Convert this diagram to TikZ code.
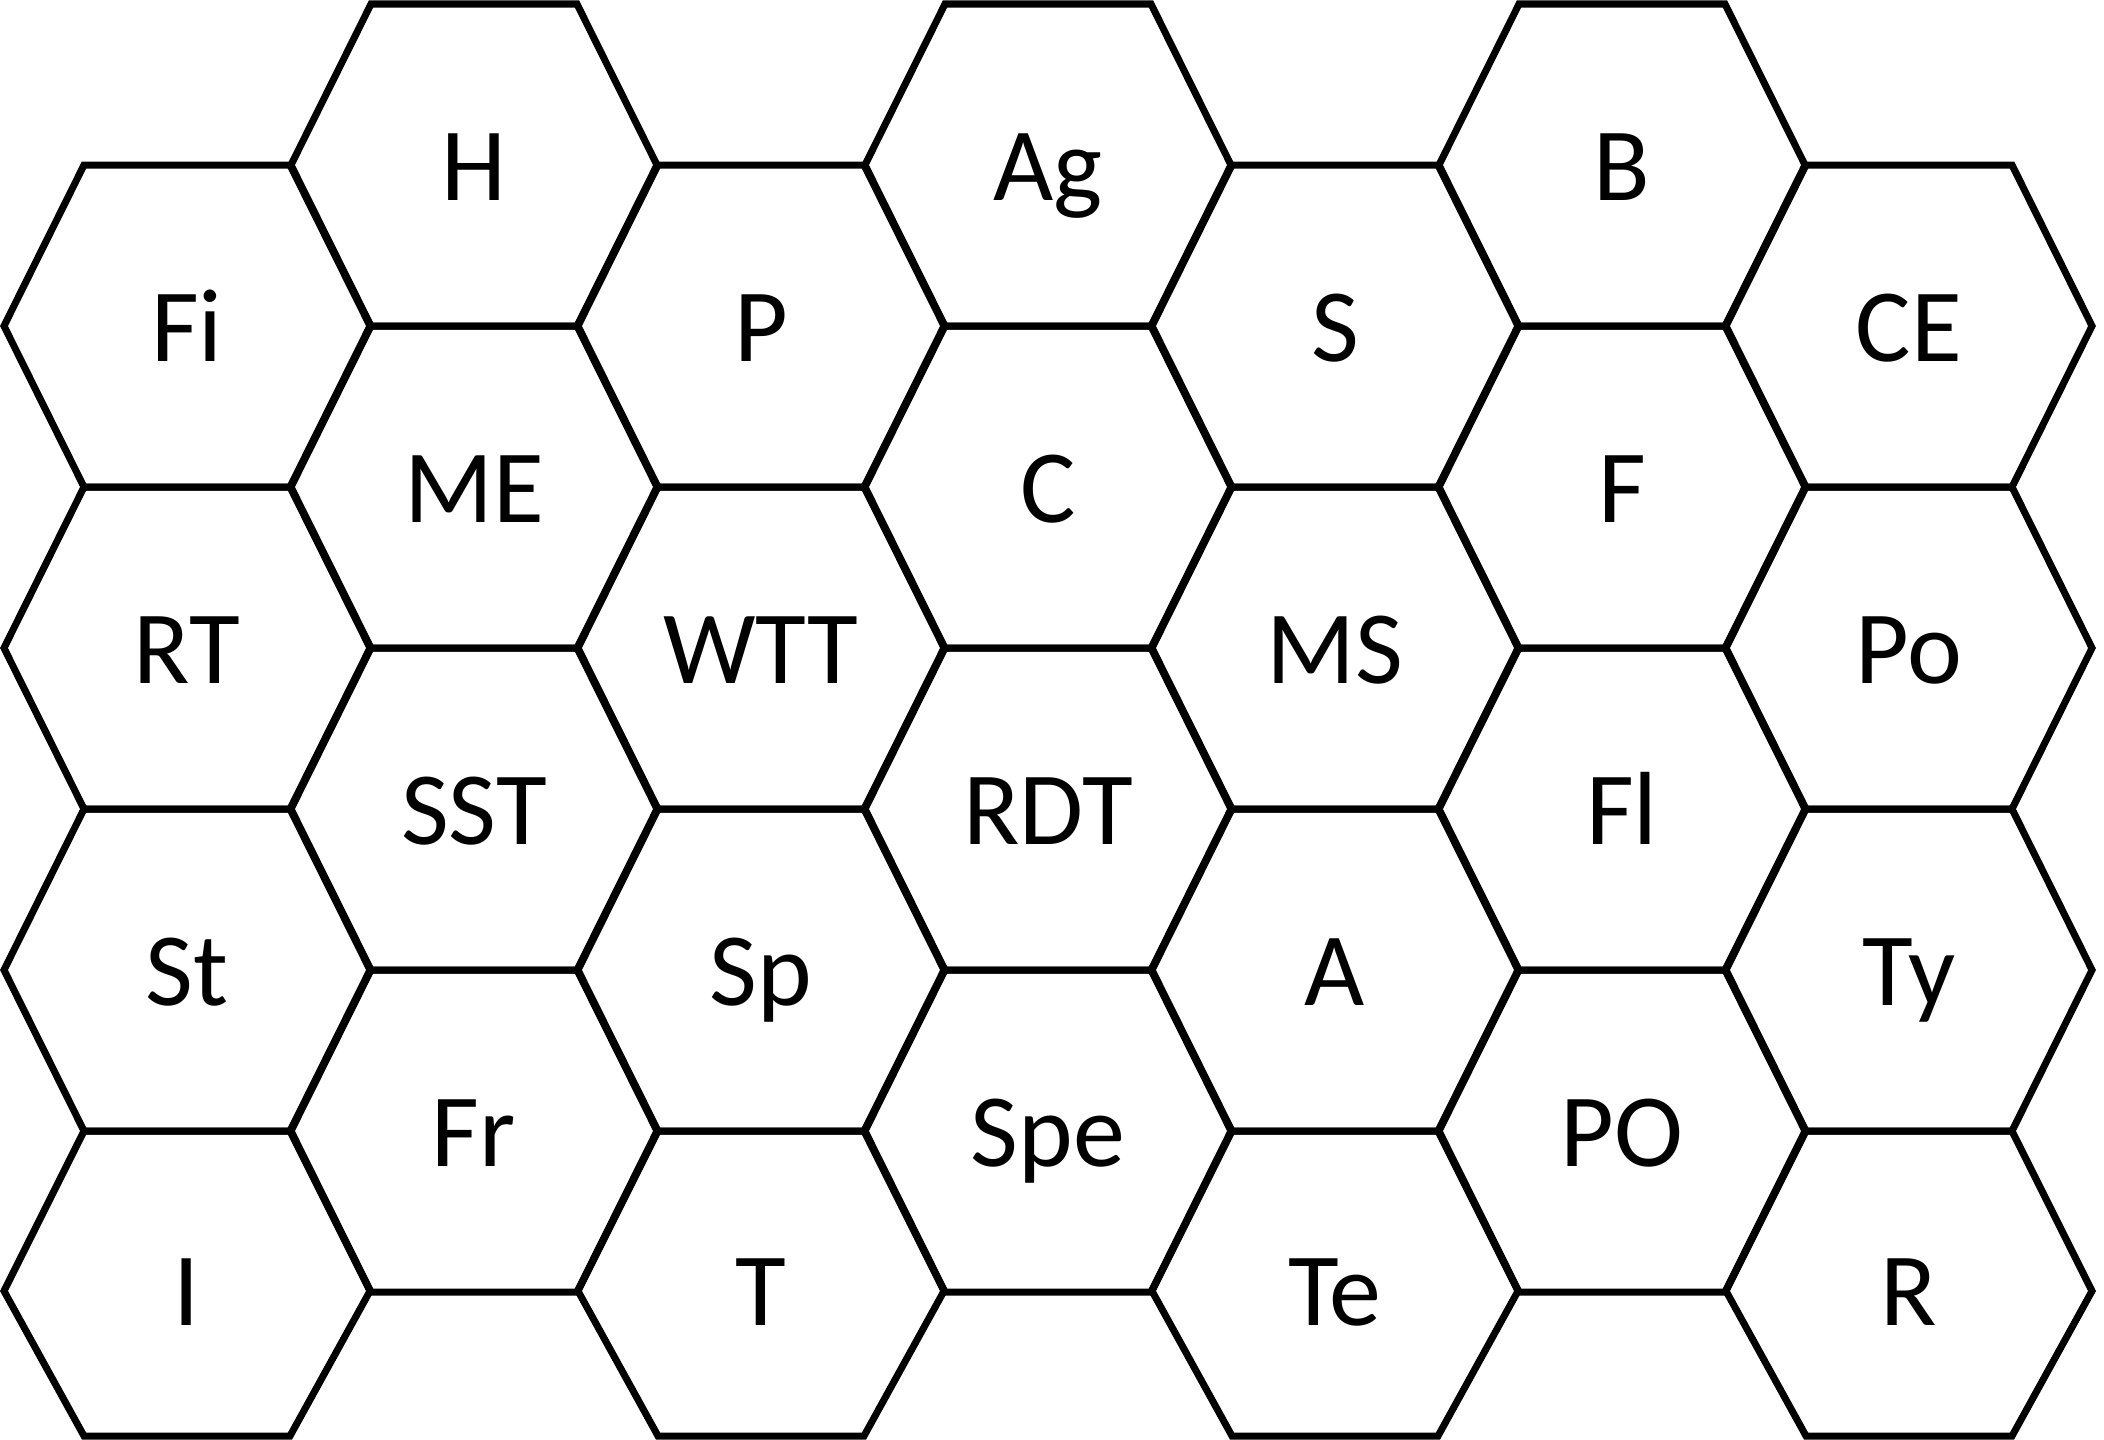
\documentclass[tikz,border=0pt]{standalone}
\usepackage{fontspec}
\setmainfont{Carlito}
\newcommand\hexcell[4]{% x, y, upper half, lower half
  \draw[hexline] ({#1-183},{#2}) -- ({#1-103},{#2-#3}) -- ({#1+103},{#2-#3})
    -- ({#1+183},{#2}) -- ({#1+103},{#2+#4}) -- ({#1-103},{#2+#4}) -- cycle;}
\begin{document}
\begin{tikzpicture}[x=1pt,y=-1pt,
  hexline/.style={line width=7pt, line join=miter},
  lab/.style={font=\fontsize{104}{110}\selectfont, inner sep=0pt, anchor=base}]
\useasboundingbox (0,0) rectangle (2104,1440);
\fill[white] (0,0) rectangle (2104,1440);
% even columns
\foreach \x in {187,761,1335,1909}{
  \foreach \y in {326,648,970}{ \hexcell{\x}{\y}{161}{161} }
  \hexcell{\x}{1291}{160}{145}
}
% odd columns
\foreach \x in {474,1048,1622}{
  \foreach \y in {165,487,809,1131}{ \hexcell{\x}{\y}{161}{161} }
}
% labels column 0
\node[lab] (nFi) at (187,361) {Fi};
\node[lab] (nRT) at (187,683) {RT};
\node[lab] (nSt) at (187,1005) {St};
\node[lab] (nI) at (187,1325) {I};
% column 1
\node[lab] (nH) at (474,200) {H};
\node[lab] (nME) at (474,522) {ME};
\node[lab] (nSST) at (474,844) {SST};
\node[lab] (nFr) at (474,1166) {Fr};
% column 2
\node[lab] (nP) at (761,361) {P};
\node[lab] (nWTT) at (761,683) {WTT};
\node[lab] (nSp) at (761,1005) {Sp};
\node[lab] (nT) at (761,1325) {T};
% column 3
\node[lab] (nAg) at (1048,200) {Ag};
\node[lab] (nC) at (1048,522) {C};
\node[lab] (nRDT) at (1048,844) {RDT};
\node[lab] (nSpe) at (1048,1166) {Spe};
% column 4
\node[lab] (nS) at (1335,361) {S};
\node[lab] (nMS) at (1335,683) {MS};
\node[lab] (nA) at (1335,1005) {A};
\node[lab] (nTe) at (1335,1325) {Te};
% column 5
\node[lab] (nB) at (1622,200) {B};
\node[lab] (nF) at (1622,522) {F};
\node[lab] (nFl) at (1622,844) {Fl};
\node[lab] (nPO) at (1622,1166) {PO};
% column 6
\node[lab] (nCE) at (1909,361) {CE};
\node[lab] (nPo) at (1909,683) {Po};
\node[lab] (nTy) at (1909,1005) {Ty};
\node[lab] (nR) at (1909,1325) {R};
\end{tikzpicture}
\end{document}
